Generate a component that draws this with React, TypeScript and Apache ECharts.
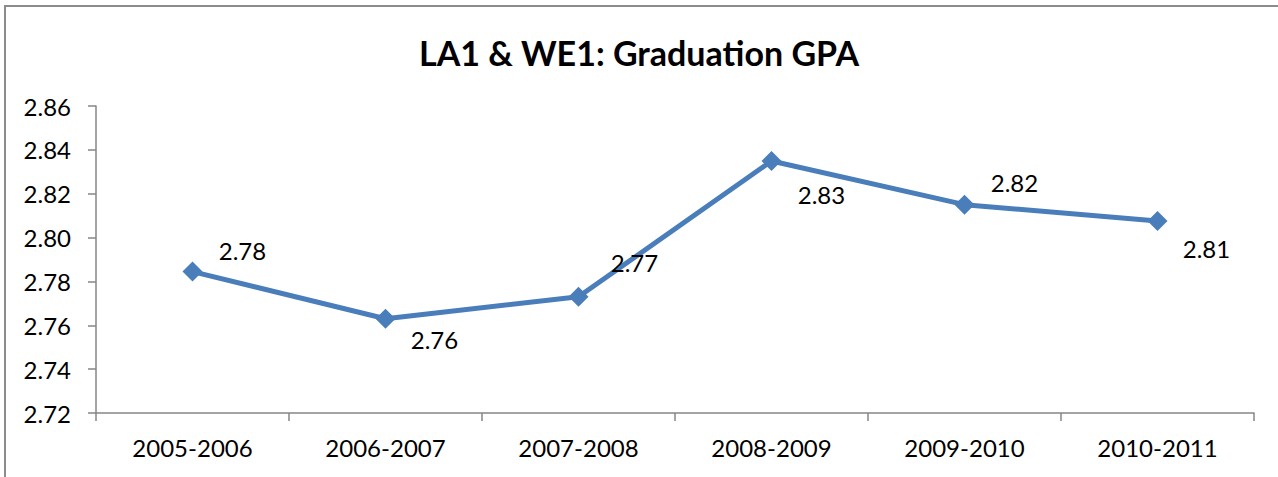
import React, { useEffect, useRef } from "react";
import * as echarts from "echarts";

const categories = ["2005-2006", "2006-2007", "2007-2008", "2008-2009", "2009-2010", "2010-2011"];
const gpaValues = [2.7845, 2.763, 2.773, 2.8349, 2.815, 2.8076];
const gpaLabels = ["2.78", "2.76", "2.77", "2.83", "2.82", "2.81"];
const labelOffsets: [number, number][] = [[50, -21], [49, 21], [56, -34], [50, 33], [50, -22], [49, 28]];
const yTicks = { min: 2.72, max: 2.86, interval: 0.02 };

const FONT = "Lato, 'Open Sans', sans-serif";

export default function App() {
  const ref = useRef<HTMLDivElement>(null);
  useEffect(() => {
    document.body.style.margin = "0";
    const chart = echarts.init(ref.current!, null, { renderer: "svg" });
    chart.setOption({
      animation: false,
      backgroundColor: "#fff",
      title: {
        text: "LA1 & WE1: Graduation GPA",
        left: "center",
        top: 30,
        textStyle: { fontFamily: FONT, fontSize: 34, fontWeight: "bold", color: "#000" },
      },
      graphic: [
        {
          type: "rect",
          shape: { x: 5, y: 6, width: 1290, height: 490 },
          style: { fill: "none", stroke: "#8c8c8c", lineWidth: 2 },
          silent: true,
        },
      ],
      grid: { left: 96, right: 24, top: 106, bottom: 64 },
      xAxis: {
        type: "category",
        data: categories,
        boundaryGap: true,
        axisLine: { lineStyle: { color: "#868686", width: 1.5 } },
        axisTick: { show: true, length: 8, alignWithLabel: false, lineStyle: { color: "#868686", width: 1.5 } },
        axisLabel: { color: "#000", fontFamily: FONT, fontSize: 24, margin: 22 },
      },
      yAxis: {
        type: "value",
        min: yTicks.min,
        max: yTicks.max,
        interval: yTicks.interval,
        axisLine: { show: true, lineStyle: { color: "#868686", width: 1.5 } },
        axisTick: { show: true, length: 8, lineStyle: { color: "#868686", width: 1.5 } },
        splitLine: { show: false },
        axisLabel: {
          color: "#000",
          fontFamily: FONT,
          fontSize: 24,
          margin: 25,
          formatter: (v: number) => v.toFixed(2),
        },
      },
      series: [
        {
          type: "line",
          data: gpaValues.map((v, i) => ({
            value: v,
            label: {
              show: true,
              position: "inside",
              offset: labelOffsets[i],
              formatter: gpaLabels[i],
              color: "#000",
              fontFamily: FONT,
              fontSize: 24,
            },
          })),
          symbol: "diamond",
          symbolSize: 20,
          itemStyle: { color: "#4a7ebb" },
          lineStyle: { color: "#4a7ebb", width: 5 },
        },
      ],
    });
    return () => chart.dispose();
  }, []);
  return <div ref={ref} style={{ width: 1278, height: 477 }} />;
}
